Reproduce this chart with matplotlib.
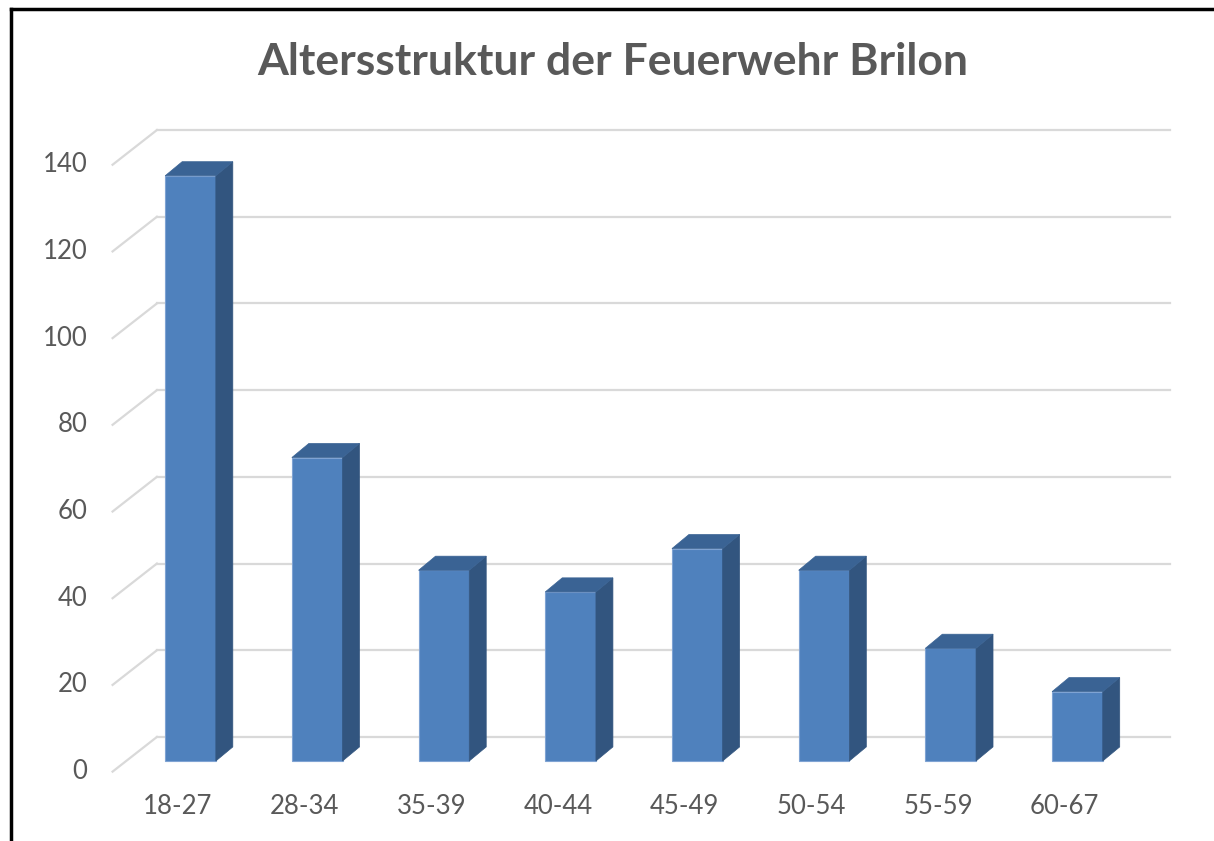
import matplotlib.pyplot as plt
from matplotlib.patches import Polygon
from matplotlib.lines import Line2D

# data
groups = ["18-27", "28-34", "35-39", "40-44", "45-49", "50-54", "55-59", "60-67"]
counts = [135, 70, 44, 39, 49, 44, 26, 16]
yticks = [0, 20, 40, 60, 80, 100, 120, 140]

# styling (pseudo-3d offsets in data units)
bar_w = 0.40
dx, dy = 0.134, 3.25          # bar depth
wall_dx, wall_dy = 0.35, 8.0  # floor depth for the gridlines
wall_x0 = -0.265
wall_x1 = 7.73
front_col = "#4F81BD"
side_col = "#32557F"
top_col = "#3A6394"
grid_col = "#D9D9D9"
text_col = "#595959"

plt.rcParams["font.family"] = ["Lato", "DejaVu Sans"]

fig = plt.figure(figsize=(12.14, 8.41), dpi=100)
ax = fig.add_axes([0, 0, 1, 1])
ax.set_xlim(-190.5 / 126.7, (1214 - 190.5) / 126.7)
ax.set_ylim(-80 / 4.335, 761 / 4.335)
ax.axis("off")

# gridlines: diagonal on left side wall + horizontal on back wall
back_off = 5.55
for v in yticks:
    yb = v + back_off
    ax.plot([wall_x0 - wall_dx, wall_x0], [yb - wall_dy, yb], color=grid_col, lw=1.6, zorder=1)
    ax.plot([wall_x0, wall_x1], [yb, yb], color=grid_col, lw=1.6, zorder=1)
    ax.text(wall_x0 - wall_dx - 0.2, yb - wall_dy, str(v), ha="right", va="center",
            fontsize=18.5, color=text_col)

# bars
x = list(range(len(groups)))
ax.bar(x, counts, width=bar_w, color=front_col, edgecolor="#7FA3D3", linewidth=0.8, zorder=3)
for xi, h in zip(x, counts):
    r = xi + bar_w / 2
    l = xi - bar_w / 2
    side = Polygon([(r, 0), (r + dx, dy), (r + dx, h + dy), (r, h)],
                   closed=True, facecolor=side_col, edgecolor=side_col, lw=0.5, zorder=3)
    top = Polygon([(l, h), (l + dx, h + dy), (r + dx, h + dy), (r, h)],
                  closed=True, facecolor=top_col, edgecolor=top_col, lw=0.5, zorder=3)
    ax.add_patch(side)
    ax.add_patch(top)

for xi, g in zip(x, groups):
    ax.text(xi - 0.1, -10.6, g, ha="center", va="center", fontsize=18.5, color=text_col)

fig.text(0.505, 0.926, "Altersstruktur der Feuerwehr Brilon", ha="center", va="center",
         fontsize=32, fontweight="bold", color=text_col)

# frame lines (top and left)
fig.add_artist(Line2D([11 / 1214, 1], [1 - 9 / 841, 1 - 9 / 841], color="black", lw=2.5,
                      transform=fig.transFigure))
fig.add_artist(Line2D([11 / 1214, 11 / 1214], [0, 1 - 9 / 841], color="black", lw=2.5,
                      transform=fig.transFigure))

fig.savefig("out.png", dpi=100)
